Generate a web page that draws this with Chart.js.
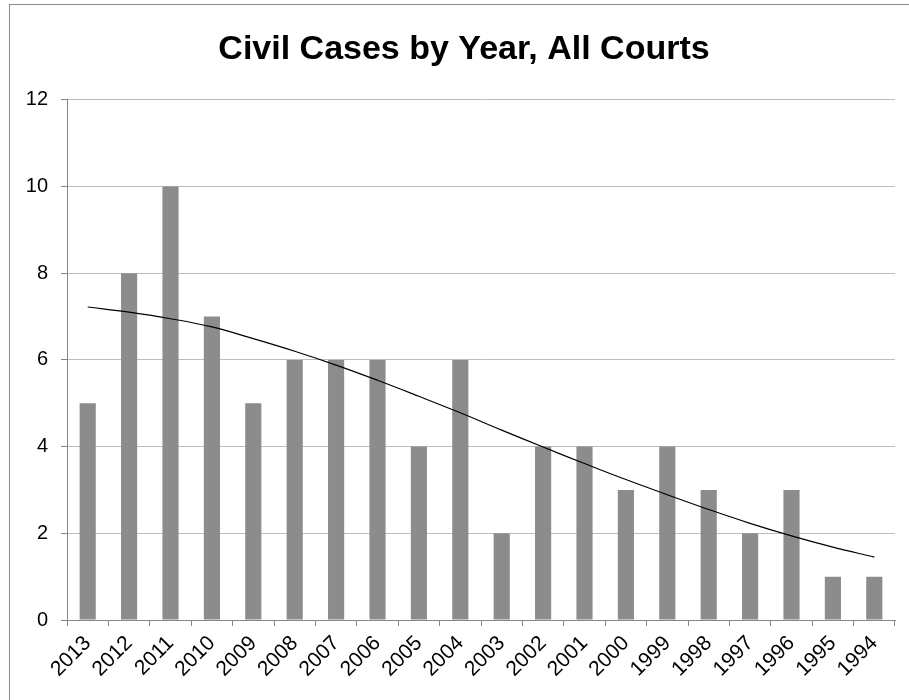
<!DOCTYPE html>
<html>

<head>
    <title>Civil Cases by Year</title>
    <meta name="viewport" content="width=device-width, initial-scale=1.0">
    <script src="https://cdn.jsdelivr.net/npm/chart.js"></script>
    <style type="text/css">
        body {
            margin: 0;
            overflow: hidden;
            background: #fff;
        }
        .frame {
            position: absolute;
            left: 9px;
            top: 4px;
            width: 940px;
            height: 740px;
            border: 1px solid #8a8a8a;
        }
        .chart-container {
            position: absolute;
            left: 0;
            top: 0;
            width: 909px;
            height: 700px;
        }
    </style>
</head>

<body>
    <div class="frame"></div>
    <div class="chart-container">
        <canvas id="myChart"></canvas>
    </div>

    <script>
        const years = ['2013', '2012', '2011', '2010', '2009', '2008', '2007', '2006', '2005', '2004',
            '2003', '2002', '2001', '2000', '1999', '1998', '1997', '1996', '1995', '1994'];
        const cases = [5, 8, 10, 7, 5, 6, 6, 6, 4, 6, 2, 4, 4, 3, 4, 3, 2, 3, 1, 1];
        // trend line
        const trend = [7.22, 7.10, 6.95, 6.76, 6.49, 6.20, 5.88, 5.53, 5.16, 4.78,
            4.38, 3.99, 3.61, 3.24, 2.89, 2.55, 2.23, 1.94, 1.68, 1.45];
        const yTicks = [0, 2, 4, 6, 8, 10, 12];

        const titleFont = "'Liberation Sans Narrow', 'Liberation Sans', sans-serif";
        const tickFont = "'Liberation Sans', sans-serif";

        var ctx = document.getElementById('myChart').getContext('2d');
        var myChart = new Chart(ctx, {
            type: 'bar',
            data: {
                labels: years,
                datasets: [{
                    type: 'line',
                    data: trend,
                    borderColor: '#000',
                    borderWidth: 1.2,
                    pointRadius: 0,
                    tension: 0.4,
                    order: 0
                }, {
                    data: cases,
                    backgroundColor: '#8c8c8c',
                    barPercentage: 0.39,
                    categoryPercentage: 1,
                    order: 1
                }]
            },
            options: {
                responsive: true,
                maintainAspectRatio: false,
                animation: false,
                layout: {
                    // left padding pushes the title centre to the right like the original
                    padding: { left: 33, right: 14, top: 0, bottom: 0 }
                },
                plugins: {
                    legend: { display: false },
                    tooltip: { enabled: false },
                    title: {
                        display: true,
                        text: 'Civil Cases by Year, All Courts',
                        color: '#000',
                        font: { family: titleFont, size: 34, weight: 'bold' },
                        padding: { top: 29, bottom: 30 }
                    }
                },
                scales: {
                    x: {
                        grid: {
                            drawOnChartArea: false,
                            drawTicks: true,
                            tickLength: 6,
                            color: '#868686'
                        },
                        border: { color: '#868686' },
                        ticks: {
                            color: '#000',
                            font: { family: tickFont, size: 21 },
                            minRotation: 45,
                            maxRotation: 45,
                            padding: 5,
                            autoSkip: false
                        },
                        afterFit: function (scale) {
                            scale.height = 80;
                        }
                    },
                    y: {
                        min: 0,
                        max: 12,
                        afterBuildTicks: function (scale) {
                            scale.ticks = yTicks.map(v => ({ value: v }));
                        },
                        grid: {
                            color: '#bdbdbd',
                            tickLength: 6,
                            tickColor: '#868686'
                        },
                        border: { color: '#868686' },
                        ticks: {
                            color: '#000',
                            font: { family: tickFont, size: 20 },
                            padding: 13
                        },
                        afterFit: function (scale) {
                            scale.width = 34;
                            // labels reach past the narrow axis box, don't clip them
                            scale._computeLabelArea = function () { return undefined; };
                        }
                    }
                }
            }
        });
    </script>
</body>

</html>
